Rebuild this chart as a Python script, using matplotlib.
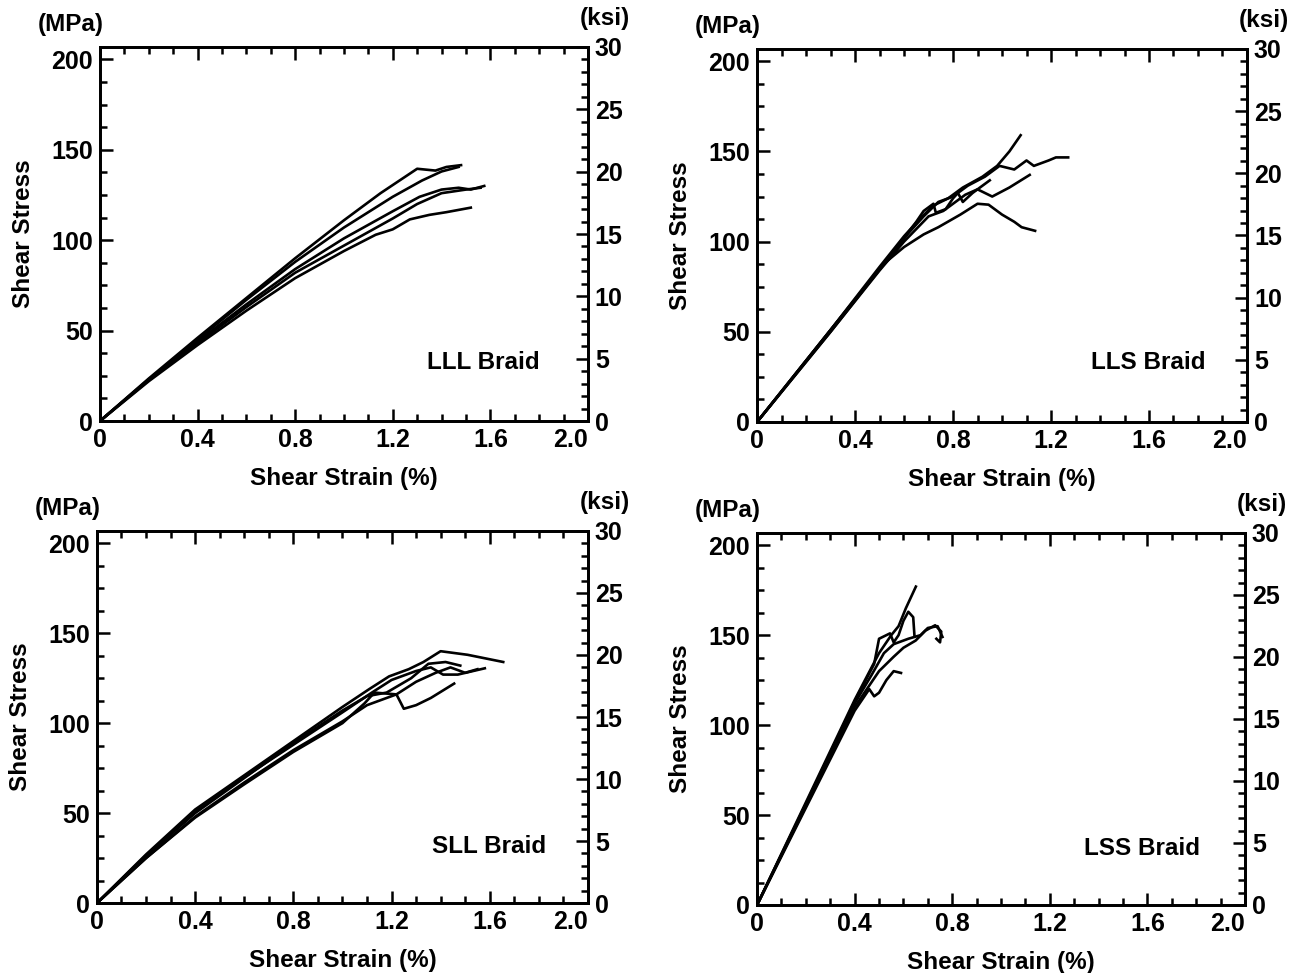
import matplotlib
matplotlib.use("Agg")
import matplotlib.pyplot as plt
from matplotlib.ticker import MultipleLocator

plt.rcParams['font.family'] = ['Liberation Sans', 'DejaVu Sans']
plt.rcParams['font.weight'] = 'bold'

MPA_PER_KSI = 6.894757

# --- LLL braid: strain (%) / stress (MPa) for each specimen
lll_strain = [
    [0, 0.2, 0.4, 0.6, 0.8, 1.0, 1.15, 1.25, 1.30, 1.375, 1.42, 1.48],
    [0, 0.2, 0.4, 0.6, 0.8, 1.0, 1.2, 1.32, 1.40, 1.47],
    [0, 0.2, 0.4, 0.6, 0.8, 1.0, 1.2, 1.31, 1.40, 1.47, 1.52, 1.575],
    [0, 0.2, 0.4, 0.6, 0.8, 1.0, 1.2, 1.3, 1.40, 1.50, 1.56],
    [0, 0.2, 0.4, 0.6, 0.8, 1.0, 1.13, 1.20, 1.27, 1.35, 1.42, 1.52],
]
lll_stress = [
    [0, 23.5, 46, 68, 90, 111, 126, 135, 139.5, 138.5, 140.5, 141.5],
    [0, 23, 45, 67, 88, 107, 124, 133, 138, 140.5],
    [0, 23, 44, 64.5, 84, 101, 116, 124, 128, 129, 128, 130],
    [0, 22.5, 43, 63, 82, 97, 112, 120, 126, 128, 129],
    [0, 22, 42, 61, 79, 94, 103, 106, 111.5, 114, 115.5, 118],
]

# --- LLS braid
lls_strain = [
    [0, 0.3, 0.5, 0.6, 0.66, 0.72, 0.78, 0.84, 0.92, 0.98, 1.03, 1.076],
    [0, 0.3, 0.5, 0.62, 0.68, 0.74, 0.80, 0.86, 0.93, 0.99, 1.05, 1.10, 1.13, 1.19, 1.22, 1.27],
    [0, 0.3, 0.5, 0.6, 0.70, 0.76, 0.80, 0.85, 0.90, 0.96, 1.03, 1.113],
    [0, 0.3, 0.52, 0.60, 0.68, 0.74, 0.83, 0.90, 0.945, 1.00, 1.05, 1.08, 1.135],
    [0, 0.3, 0.55, 0.65, 0.68, 0.72, 0.73, 0.77, 0.80, 0.82, 0.84, 0.88, 0.95],
]
lls_stress = [
    [0, 51, 86, 103, 112, 120, 124, 130, 136, 142, 150, 159],
    [0, 51, 85, 105, 114, 122, 125, 131, 136, 142, 140, 145, 142, 145, 146.7, 146.7],
    [0, 50, 84, 100, 114, 117, 121, 126, 129, 125, 130, 137],
    [0, 50, 88, 97, 104, 108, 115, 121, 120.5, 115, 111, 108, 106],
    [0, 51, 93, 111, 117, 121, 116, 118, 124, 127, 122, 127, 134],
]

# --- SLL braid
sll_strain = [
    [0, 0.2, 0.4, 0.6, 0.8, 1.0, 1.11, 1.19, 1.27, 1.33, 1.40, 1.51, 1.655],
    [0, 0.2, 0.4, 0.6, 0.8, 1.0, 1.12, 1.20, 1.30, 1.36, 1.41, 1.47, 1.58],
    [0, 0.2, 0.4, 0.6, 0.8, 1.0, 1.10, 1.22, 1.25, 1.30, 1.36, 1.455],
    [0, 0.2, 0.4, 0.6, 0.8, 1.0, 1.09, 1.13, 1.22, 1.30, 1.38, 1.44, 1.50, 1.55],
    [0, 0.2, 0.4, 0.8, 1.0, 1.10, 1.18, 1.28, 1.35, 1.42, 1.48],
]
sll_stress = [
    [0, 27, 52, 71, 90, 109, 119, 126, 130, 134, 140, 138, 134],
    [0, 26.5, 51, 70, 88, 106, 117, 124, 129, 131, 127, 127, 130.5],
    [0, 25, 48, 67, 85, 101, 110, 116, 108, 110, 114, 122],
    [0, 25, 47.5, 66, 84, 100, 111, 117, 116, 123, 128, 131, 128, 130],
    [0, 26, 50, 89, 107, 115, 117, 125, 133, 134, 132],
]

# --- LSS braid
lss_strain = [
    [0, 0.2, 0.4, 0.5, 0.55, 0.58, 0.61, 0.651],
    [0, 0.2, 0.4, 0.48, 0.50, 0.545, 0.56, 0.58, 0.60, 0.62, 0.64, 0.645],
    [0, 0.2, 0.4, 0.5, 0.56, 0.6, 0.65, 0.69, 0.73, 0.755, 0.75, 0.735],
    [0, 0.2, 0.4, 0.46, 0.48, 0.50, 0.53, 0.56, 0.59],
    [0, 0.2, 0.4, 0.47, 0.52, 0.56, 0.62, 0.67, 0.70, 0.74, 0.76],
]
lss_stress = [
    [0, 57, 114, 140, 150, 155, 165, 177],
    [0, 56, 113, 134, 148, 151, 146, 150, 158, 163, 160, 150],
    [0, 55, 110, 130, 138, 143, 147, 152.5, 155.5, 152, 146, 148],
    [0, 54, 108, 120, 116, 118, 125, 130, 129],
    [0, 56, 112, 128, 140, 145, 148, 150, 154, 155, 149],
]

x_ticks = [0, 0.4, 0.8, 1.2, 1.6, 2.0]
x_ticklabels = ["0", "0.4", "0.8", "1.2", "1.6", "2.0"]

panels = [
    ("LLL Braid", lll_strain, lll_stress, [0.0763, 0.5673, 0.3725, 0.3844], (1.80, 28.6)),
    ("LLS Braid", lls_strain, lls_stress, [0.5779, 0.5663, 0.3740, 0.3834], (1.83, 29.5)),
    ("SLL Braid", sll_strain, sll_stress, [0.0740, 0.0719, 0.3748, 0.3824], (1.83, 27.6)),
    ("LSS Braid", lss_strain, lss_stress, [0.5779, 0.0699, 0.3725, 0.3824], (1.815, 27.6)),
]

fs_tick = 18
fs_lab = 17.5
fig = plt.figure(figsize=(13.1, 9.73), dpi=100)

for name, strains, stresses, rect, label_pos in panels:
    ax = fig.add_axes(rect)
    for x, y in zip(strains, stresses):
        ax.plot(x, y, color="black", linewidth=1.9, solid_joinstyle="round")

    ax.set_xlim(0, 2.0)
    ax.set_ylim(0, 30 * MPA_PER_KSI)
    ax.xaxis.set_minor_locator(MultipleLocator(0.1))
    ax.yaxis.set_major_locator(MultipleLocator(50))
    ax.yaxis.set_minor_locator(MultipleLocator(12.5))
    ax.set_xticks(x_ticks)
    ax.set_xticklabels(x_ticklabels)
    ax.get_xticklabels()[-1].set_horizontalalignment("right")
    ax.tick_params(which="both", direction="in", top=True, right=False,
                   width=1.8, labelsize=fs_tick)
    ax.tick_params(which="major", length=9, pad=5)
    ax.tick_params(which="minor", length=5)
    for sp in ax.spines.values():
        sp.set_linewidth(2.0)

    ax.set_xlabel("Shear Strain (%)", fontsize=fs_lab, fontweight="bold", labelpad=11)
    ax.set_ylabel("Shear Stress", fontsize=fs_lab, fontweight="bold", labelpad=12)
    ax.text(-0.06, 1.03, "(MPa)", transform=ax.transAxes, fontsize=fs_lab,
            fontweight="bold", ha="center", va="bottom")
    ax.text(label_pos[0], label_pos[1], name, fontsize=fs_lab, fontweight="bold",
            ha="right", va="baseline")

    ax2 = ax.twinx()
    ax2.set_ylim(0, 30)
    ax2.yaxis.set_major_locator(MultipleLocator(5))
    ax2.yaxis.set_minor_locator(MultipleLocator(1))
    ax2.tick_params(which="both", direction="in", width=1.8, labelsize=fs_tick)
    ax2.tick_params(which="major", length=9, pad=5)
    ax2.tick_params(which="minor", length=5)
    for sp in ax2.spines.values():
        sp.set_linewidth(2.0)
    ax2.text(1.035, 1.045, "(ksi)", transform=ax2.transAxes, fontsize=fs_lab,
             fontweight="bold", ha="center", va="bottom")

fig.savefig("out.png", dpi=100)
